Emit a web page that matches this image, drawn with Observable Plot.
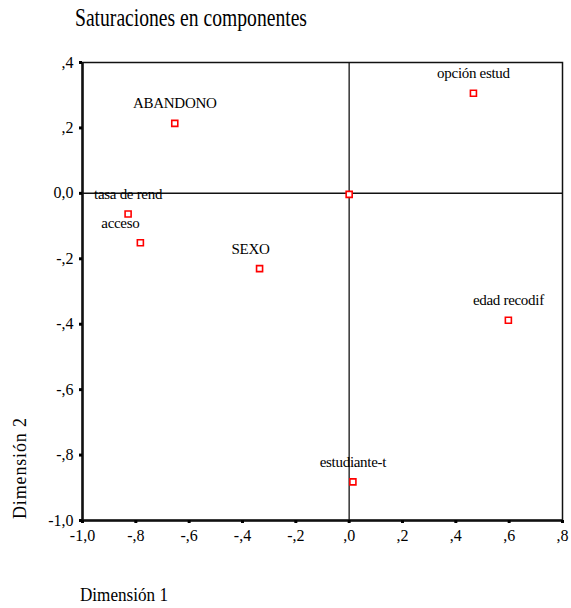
<!DOCTYPE html>
<html><head><meta charset="utf-8">
<script src="https://cdn.jsdelivr.net/npm/d3@7"></script>
<script src="https://cdn.jsdelivr.net/npm/@observablehq/plot@0.6"></script>
<style>
body{margin:0;background:#fff}
svg{display:block}
#chart svg, #chart text{font-family:"Liberation Serif","Times New Roman",serif !important}
.lbl text{letter-spacing:-0.3px}
</style>
</head><body><div id="chart"></div>
<script>
// Data
const labels = ["opción estud","ABANDONO","tasa de rend","acceso","SEXO","","edad recodif","estudiante-t"];
const dim1 = [0.466,-0.654,-0.829,-0.783,-0.336,0.000,0.597,0.014];
const dim2 = [0.306,0.214,-0.063,-0.151,-0.230,-0.003,-0.388,-0.882];
const xTicks = [-1,-0.8,-0.6,-0.4,-0.2,0,0.2,0.4,0.6,0.8];
const xTickLabels = ["-1,0","-,8","-,6","-,4","-,2",",0",",2",",4",",6",",8"];
const yTicks = [-1,-0.8,-0.6,-0.4,-0.2,0,0.2,0.4];
const yTickLabels = ["-1,0","-,8","-,6","-,4","-,2","0,0",",2",",4"];
const title = "Saturaciones en componentes";
const xLabel = "Dimensión 1";
const yLabel = "Dimensión 2";

const points = labels.map((label, i) => ({label, d1: dim1[i], d2: dim2[i]}));
const labelShift = {"acceso": -20, "SEXO": -9};

const textMarks = points.filter(d => d.label).map(d =>
  Plot.text([d], {x: "d1", y: "d2", text: "label", dx: labelShift[d.label] || 0, dy: -15,
    lineAnchor: "bottom", textAnchor: "middle", fontSize: 15, fill: "black", className: "lbl"}));

const chart = Plot.plot({
  width: 571, height: 608,
  marginLeft: 82, marginRight: 9, marginTop: 62, marginBottom: 88,
  x: {domain: [-1, 0.8]},
  y: {domain: [-1, 0.4]},
  style: {fontFamily: "Liberation Serif", background: "white"},
  marks: [
    Plot.ruleX([0], {stroke: "#333", strokeWidth: 1.5}),
    Plot.ruleY([0], {stroke: "#111", strokeWidth: 1.5}),
    Plot.frame({stroke: "#111", strokeWidth: 1.5}),
    Plot.ruleX([-1], {stroke: "#111", strokeWidth: 2.5}),
    Plot.ruleY([-1], {stroke: "#111", strokeWidth: 2.5}),
    Plot.axisX({ticks: xTicks, tickFormat: d => xTickLabels[xTicks.indexOf(d)], tickSize: 3, tickPadding: 6,
      strokeWidth: 3, fontSize: 16, label: null, color: "black"}),
    Plot.axisY({ticks: yTicks, tickFormat: d => yTickLabels[yTicks.indexOf(d)], tickSize: 3, tickPadding: 6,
      strokeWidth: 3, fontSize: 16, label: null, color: "black"}),
    Plot.dot(points, {x: "d1", y: "d2", symbol: "square", r: 3.4, stroke: "#ff0000", strokeWidth: 1.6, fill: "white"}),
    ...textMarks
  ]
});

const svg = d3.select(chart);
svg.append("text").attr("x", 75).attr("y", 26).attr("font-size", 25)
  .attr("textLength", 232).attr("lengthAdjust", "spacingAndGlyphs")
  .attr("text-anchor", "start").attr("fill", "black").text(title);
svg.append("text").attr("x", 80).attr("y", 601).attr("font-size", 18).attr("text-anchor", "start")
  .attr("textLength", 88).attr("lengthAdjust", "spacingAndGlyphs")
  .attr("fill", "black").text(xLabel);
svg.append("text").attr("transform", "translate(26,519) rotate(-90)").attr("font-size", 18)
  .attr("textLength", 101).attr("lengthAdjust", "spacing")
  .attr("text-anchor", "start").attr("fill", "black").text(yLabel);

document.getElementById("chart").appendChild(chart);
</script>
</body></html>
